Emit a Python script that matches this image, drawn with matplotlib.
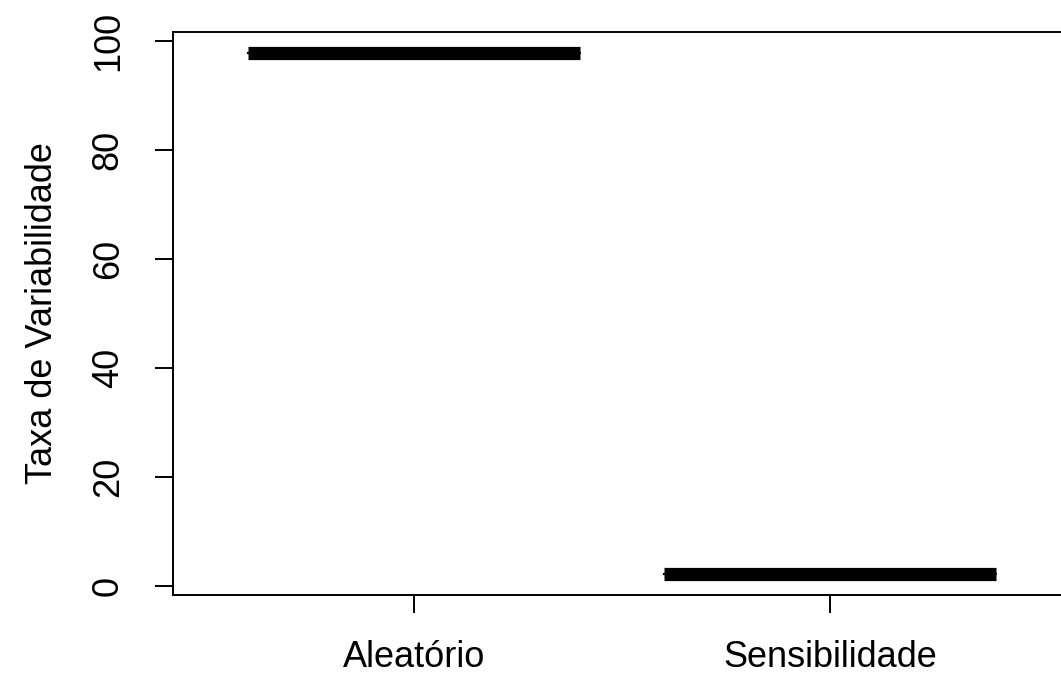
import matplotlib
matplotlib.use("Agg")
import matplotlib.pyplot as plt

# Data
categories = ["Aleatório", "Sensibilidade"]
values = [97.8, 2.2]

plt.rcParams['font.family'] = ['Liberation Sans', 'DejaVu Sans']

fig = plt.figure(figsize=(10.61, 6.73), dpi=100)
# R plot region; right edge falls outside the image in the reference
ax = fig.add_axes([173 / 1061, (673 - 595) / 673, (1071 - 173) / 1061, (595 - 32) / 673])

stats = []
for name, v in zip(categories, values):
    stats.append({'med': v, 'q1': v, 'q3': v, 'whislo': v, 'whishi': v,
                  'fliers': [], 'label': name})

ax.bxp(stats, positions=[1, 2], widths=0.8, showfliers=False, showcaps=False,
       boxprops=dict(color='black', linewidth=1.5),
       medianprops=dict(color='black', linewidth=9.5, solid_capstyle='butt'),
       whiskerprops=dict(color='black', linewidth=1.2, linestyle='--'))

ax.set_xlim(0.42, 2.58)
ax.set_ylim(-1.62, 101.62)

ax.set_yticks([0, 20, 40, 60, 80, 100])
ax.set_xticks([1, 2])
ax.set_xticklabels(categories)

for lbl in ax.get_yticklabels():
    lbl.set_rotation(90)
    lbl.set_va('center')

ax.tick_params(axis='both', length=13, width=1.4, labelsize=26, color='black')
ax.tick_params(axis='y', pad=21)
ax.tick_params(axis='x', pad=19.5)

for s in ax.spines.values():
    s.set_linewidth(1.4)

ax.set_ylabel("Taxa de Variabilidade", fontsize=26, labelpad=22)

fig.savefig("out.png", dpi=100)
